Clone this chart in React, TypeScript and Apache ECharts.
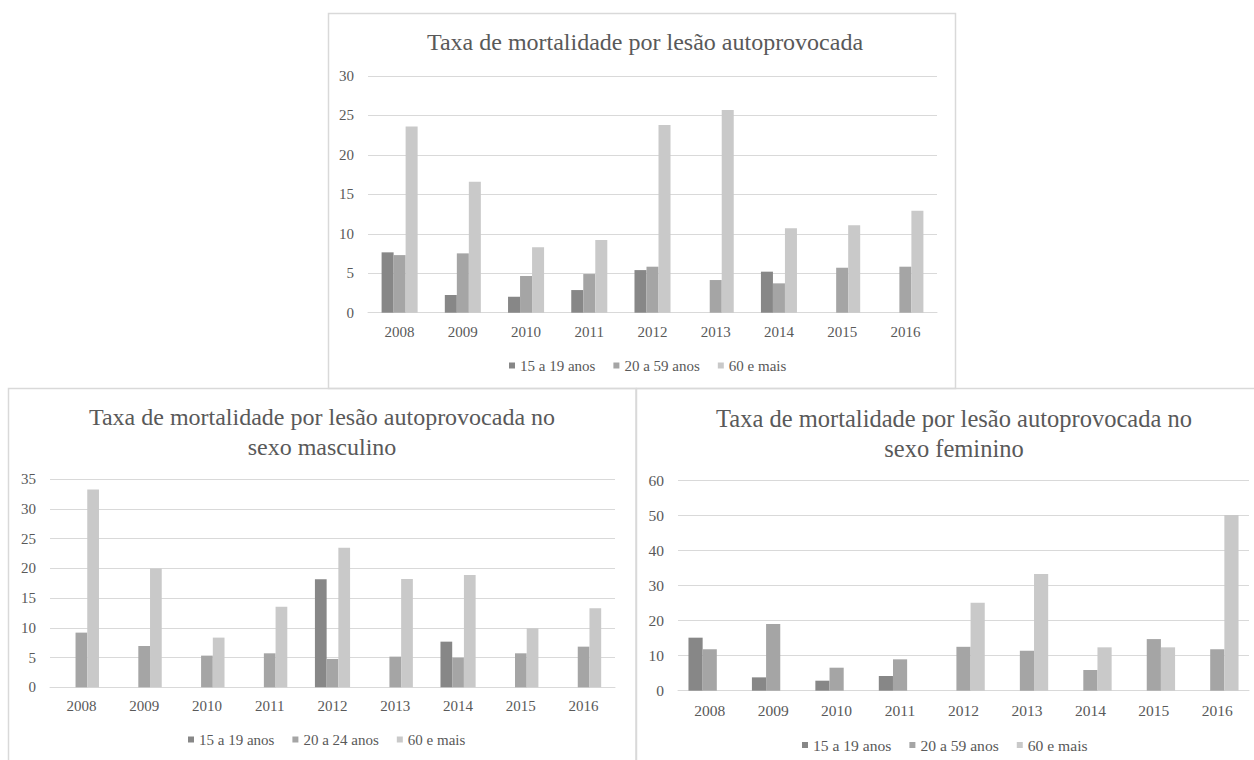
import React, { useEffect, useRef } from "react";
import * as echarts from "echarts";

const years = ["2008", "2009", "2010", "2011", "2012", "2013", "2014", "2015", "2016"];

// Chart 1: total
const total15a19 = [7.65, 2.24, 2.03, 2.87, 5.4, null, 5.2, null, null];
const total20a59 = [7.3, 7.52, 4.65, 4.9, 5.83, 4.14, 3.72, 5.7, 5.83];
const total60mais = [23.6, 16.6, 8.28, 9.2, 23.8, 25.7, 10.7, 11.07, 12.93];

// Chart 2: masculino
const masc15a19 = [null, null, null, null, 18.2, null, 7.68, null, null];
const masc20a24 = [9.2, 6.95, 5.33, 5.72, 4.77, 5.16, 4.99, 5.72, 6.84];
const masc60mais = [33.3, 20.0, 8.36, 13.57, 23.5, 18.23, 18.9, 9.93, 13.3];

// Chart 3: feminino
const fem15a19 = [15.1, 3.8, 2.85, 4.18, null, null, null, null, null];
const fem20a59 = [11.8, 19.0, 6.55, 8.93, 12.5, 11.4, 5.9, 14.7, 11.8];
const fem60mais = [null, null, null, null, 25.07, 33.2, 12.35, 12.35, 50.0];

const titles = [
  "Taxa de mortalidade por lesão autoprovocada",
  "Taxa de mortalidade por lesão autoprovocada no\nsexo masculino",
  "Taxa de mortalidade por lesão autoprovocada no\nsexo feminino",
];

const legendNames1 = ["15 a 19 anos", "20 a 59 anos", "60 e mais"];
const legendNames2 = ["15 a 19 anos", "20 a 24 anos", "60 e mais"];

const yMax = [30, 35, 60];
const yInterval = [5, 5, 10];

const COLORS = ["#878787", "#a5a5a5", "#c9c9c9"];
const TEXT = "#595959";
const LINE = "#d9d9d9";
const FONT = "Liberation Serif";

export default function App() {
  const ref = useRef<HTMLDivElement>(null);

  useEffect(() => {
    if (!ref.current) return;
    const chart = echarts.init(ref.current, undefined, { renderer: "svg" });

    const grids = [
      { left: 368, top: 76, width: 569, height: 236.7 },
      { left: 50, top: 479.3, width: 565, height: 208 },
      { left: 678, top: 480, width: 571, height: 210.7 },
    ];
    const catGaps = ["43%", "44%", "33%"];
    const labelMargins = [12, 11, 12];
    const axisFont = [15, 15, 15.5];
    const legendFont = [15, 15, 15.6];
    const titleFont = [24, 24, 24.5];

    const xAxes = grids.map((_, i) => ({
      type: "category",
      gridIndex: i,
      data: years,
      axisLine: { show: true, lineStyle: { color: LINE, width: 1 } },
      axisTick: { show: false },
      axisLabel: { color: TEXT, fontSize: axisFont[i], fontFamily: FONT, margin: labelMargins[i] },
    }));
    const yAxes = grids.map((_, i) => ({
      type: "value",
      gridIndex: i,
      min: 0,
      max: yMax[i],
      interval: yInterval[i],
      axisLine: { show: false },
      axisTick: { show: false },
      splitLine: { show: true, lineStyle: { color: LINE, width: 1 } },
      axisLabel: { color: TEXT, fontSize: axisFont[i], fontFamily: FONT, margin: 14 },
    }));

    const mk = (name: string, data: (number | null)[], gi: number, ci: number) => ({
      type: "bar",
      name,
      data,
      xAxisIndex: gi,
      yAxisIndex: gi,
      barGap: "0%",
      barCategoryGap: catGaps[gi],
      itemStyle: { color: COLORS[ci] },
      emphasis: { disabled: true },
    });

    const series = [
      mk(legendNames1[0], total15a19, 0, 0),
      mk(legendNames1[1], total20a59, 0, 1),
      mk(legendNames1[2], total60mais, 0, 2),
      mk(legendNames2[0], masc15a19, 1, 0),
      mk(legendNames2[1], masc20a24, 1, 1),
      mk(legendNames2[2], masc60mais, 1, 2),
      mk(legendNames1[0], fem15a19, 2, 0),
      mk(legendNames1[1], fem20a59, 2, 1),
      mk(legendNames1[2], fem60mais, 2, 2),
    ];

    const legendBase = (i: number) => ({
      orient: "horizontal",
      icon: "rect",
      itemWidth: 6,
      itemHeight: 6,
      itemGap: 18,
      selectedMode: false,
      textStyle: { color: TEXT, fontSize: legendFont[i], fontFamily: FONT },
    });

    const titleStyle = (text: string, i: number) => ({
      text,
      fill: TEXT,
      fontSize: titleFont[i],
      fontFamily: FONT,
      lineHeight: 30,
      textAlign: "center",
      textVerticalAlign: "middle",
    });

    const option = {
      animation: false,
      backgroundColor: "#ffffff",
      textStyle: { fontFamily: FONT },
      grid: grids,
      xAxis: xAxes,
      yAxis: yAxes,
      series,
      legend: [
        { ...legendBase(0), data: legendNames1, left: 504, top: 353 },
        { ...legendBase(1), data: legendNames2, left: 183, top: 727 },
        { ...legendBase(2), data: legendNames1, left: 797, top: 732 },
      ],
      graphic: [
        {
          type: "rect",
          shape: { x: 328.5, y: 13.5, width: 627, height: 375 },
          style: { fill: "none", stroke: LINE, lineWidth: 1.5 },
          silent: true,
        },
        {
          type: "rect",
          shape: { x: 8.5, y: 388.5, width: 627.5, height: 380 },
          style: { fill: "none", stroke: LINE, lineWidth: 1.5 },
          silent: true,
        },
        {
          type: "rect",
          shape: { x: 636.5, y: 388.5, width: 630, height: 380 },
          style: { fill: "none", stroke: LINE, lineWidth: 1.5 },
          silent: true,
        },
        { type: "text", x: 645, y: 42, silent: true, style: titleStyle(titles[0], 0) },
        { type: "text", x: 322, y: 432, silent: true, style: titleStyle(titles[1], 1) },
        { type: "text", x: 954, y: 433, silent: true, style: titleStyle(titles[2], 2) },
      ],
    };

    chart.setOption(option as any);
    return () => chart.dispose();
  }, []);

  return (
    <div
      ref={ref}
      style={{ position: "fixed", left: 0, top: 0, width: 1254, height: 760, background: "#fff" }}
    />
  );
}
